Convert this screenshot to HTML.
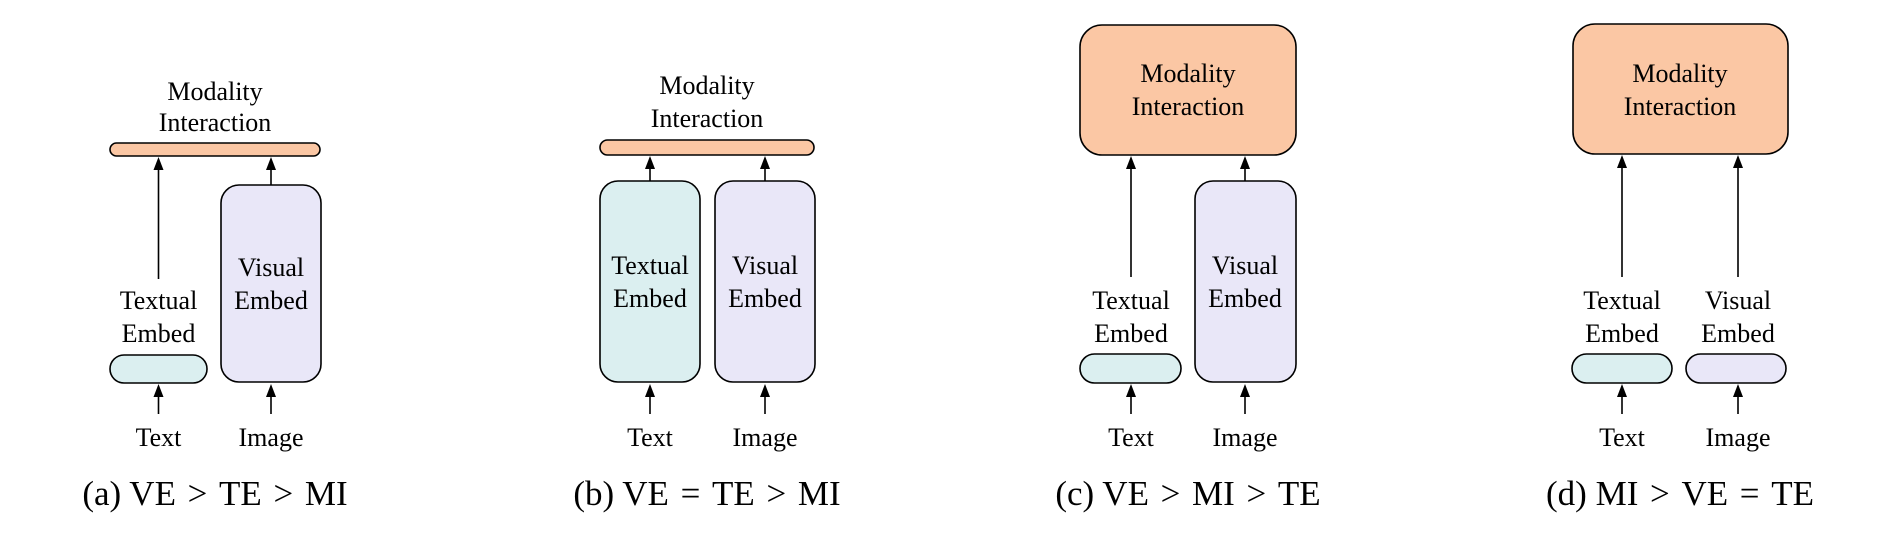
<!DOCTYPE html>
<html><head><meta charset="utf-8"><style>
html,body{margin:0;padding:0;background:#fff;}
svg{display:block;}
</style></head><body>
<svg width="1890" height="551" viewBox="0 0 1890 551" xmlns="http://www.w3.org/2000/svg" font-family="'Liberation Serif', 'Times New Roman', serif">
<g stroke="#000" stroke-width="1.6">
<rect x="110" y="143" width="210" height="13" rx="6.5" fill="#fbc7a4"/>
<rect x="221" y="185" width="100" height="197" rx="18" fill="#e9e7f8"/>
<rect x="110" y="355" width="97" height="28" rx="14" fill="#dbeff0"/>
<line x1="158.5" y1="279" x2="158.5" y2="166"/>
<line x1="271" y1="185" x2="271" y2="166"/>
<line x1="158.5" y1="414" x2="158.5" y2="393"/>
<line x1="271" y1="414" x2="271" y2="393"/>
<rect x="600" y="140" width="214" height="15" rx="7.5" fill="#fbc7a4"/>
<rect x="600" y="181" width="100" height="201" rx="18" fill="#dbeff0"/>
<rect x="715" y="181" width="100" height="201" rx="18" fill="#e9e7f8"/>
<line x1="650" y1="181" x2="650" y2="165"/>
<line x1="765" y1="181" x2="765" y2="165"/>
<line x1="650" y1="414" x2="650" y2="393"/>
<line x1="765" y1="414" x2="765" y2="393"/>
<rect x="1080" y="25" width="216" height="130" rx="22" fill="#fbc7a4"/>
<rect x="1195" y="181" width="101" height="201" rx="18" fill="#e9e7f8"/>
<rect x="1080" y="354" width="101" height="29" rx="14.5" fill="#dbeff0"/>
<line x1="1131" y1="277" x2="1131" y2="165"/>
<line x1="1245" y1="181" x2="1245" y2="165"/>
<line x1="1131" y1="414" x2="1131" y2="393"/>
<line x1="1245" y1="414" x2="1245" y2="393"/>
<rect x="1573" y="24" width="215" height="130" rx="22" fill="#fbc7a4"/>
<rect x="1572" y="354" width="100" height="29" rx="14.5" fill="#dbeff0"/>
<rect x="1686" y="354" width="100" height="29" rx="14.5" fill="#e9e7f8"/>
<line x1="1622" y1="277" x2="1622" y2="164"/>
<line x1="1738" y1="277" x2="1738" y2="164"/>
<line x1="1622" y1="414" x2="1622" y2="393"/>
<line x1="1738" y1="414" x2="1738" y2="393"/>
</g>
<g fill="#000">
<polygon points="158.5,157 153.5,170 163.5,170"/>
<polygon points="271,157 266,170 276,170"/>
<polygon points="158.5,384 153.5,397 163.5,397"/>
<polygon points="271,384 266,397 276,397"/>
<polygon points="650,156 645,169 655,169"/>
<polygon points="765,156 760,169 770,169"/>
<polygon points="650,384 645,397 655,397"/>
<polygon points="765,384 760,397 770,397"/>
<polygon points="1131,156 1126,169 1136,169"/>
<polygon points="1245,156 1240,169 1250,169"/>
<polygon points="1131,384 1126,397 1136,397"/>
<polygon points="1245,384 1240,397 1250,397"/>
<polygon points="1622,155 1617,168 1627,168"/>
<polygon points="1738,155 1733,168 1743,168"/>
<polygon points="1622,384 1617,397 1627,397"/>
<polygon points="1738,384 1733,397 1743,397"/>
</g>
<g font-size="26" text-anchor="middle" fill="#000">
<text x="215" y="100">Modality</text>
<text x="215" y="131">Interaction</text>
<text x="271" y="276">Visual</text>
<text x="271" y="309">Embed</text>
<text x="158.5" y="309">Textual</text>
<text x="158.5" y="342">Embed</text>
<text x="158.5" y="446">Text</text>
<text x="271" y="446">Image</text>
<text x="707" y="94">Modality</text>
<text x="707" y="127">Interaction</text>
<text x="650" y="274">Textual</text>
<text x="650" y="307">Embed</text>
<text x="765" y="274">Visual</text>
<text x="765" y="307">Embed</text>
<text x="650" y="446">Text</text>
<text x="765" y="446">Image</text>
<text x="1188" y="82">Modality</text>
<text x="1188" y="115">Interaction</text>
<text x="1245" y="274">Visual</text>
<text x="1245" y="307">Embed</text>
<text x="1131" y="309">Textual</text>
<text x="1131" y="342">Embed</text>
<text x="1131" y="446">Text</text>
<text x="1245" y="446">Image</text>
<text x="1680" y="82">Modality</text>
<text x="1680" y="115">Interaction</text>
<text x="1622" y="309">Textual</text>
<text x="1622" y="342">Embed</text>
<text x="1738" y="309">Visual</text>
<text x="1738" y="342">Embed</text>
<text x="1622" y="446">Text</text>
<text x="1738" y="446">Image</text>
</g>
<g font-size="35" text-anchor="middle" fill="#000">
<text x="215" y="505">(a) VE&#8196;&gt;&#8196;TE&#8196;&gt;&#8196;MI</text>
<text x="707" y="505">(b) VE&#8196;=&#8196;TE&#8196;&gt;&#8196;MI</text>
<text x="1188" y="505">(c) VE&#8196;&gt;&#8196;MI&#8196;&gt;&#8196;TE</text>
<text x="1680" y="505">(d) MI&#8196;&gt;&#8196;VE&#8196;=&#8196;TE</text>
</g>
</svg>
</body></html>
